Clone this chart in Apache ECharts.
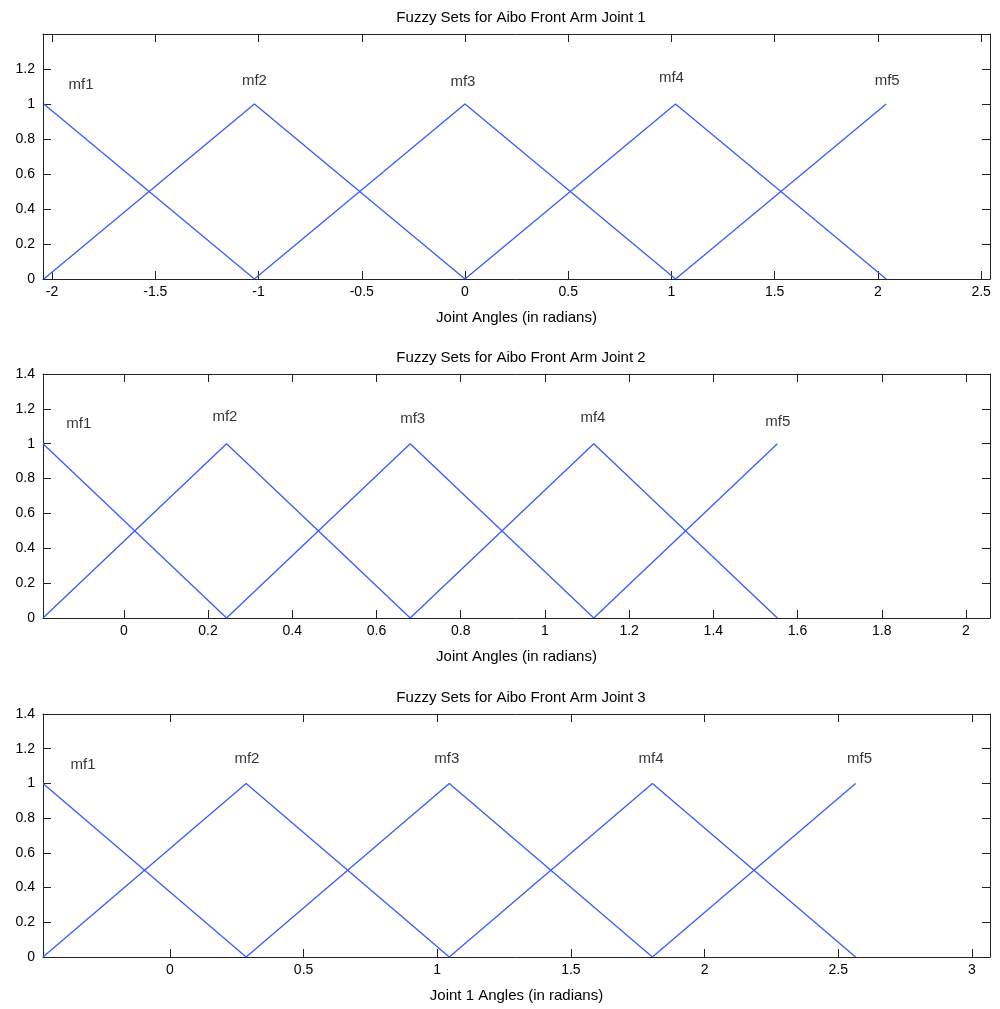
<!DOCTYPE html>
<html>
<head>
<meta charset="utf-8">
<script src="https://cdn.jsdelivr.net/npm/echarts@6/dist/echarts.min.js"></script>
<style>
  html, body { margin: 0; padding: 0; background: #fff; }
  #chart { width: 1000px; height: 1009px; }
</style>
</head>
<body>
<div id="chart"></div>
<script>
// membership function break points (peaks) for each joint
const joint1Peaks = [-2.04, -1.02, 0, 1.02, 2.04];
const joint2Peaks = [-0.192, 0.244, 0.68, 1.116, 1.552];
const joint3Peaks = [-0.475, 0.285, 1.045, 1.805, 2.565];

const mfNames = ['mf1', 'mf2', 'mf3', 'mf4', 'mf5'];

// text label positions [x, y] per joint
const joint1LabelPos = [[-1.86, 1.11], [-1.02, 1.13], [-0.01, 1.125], [1.0, 1.15], [2.045, 1.135]];
const joint2LabelPos = [[-0.107, 1.115], [0.24, 1.155], [0.686, 1.14], [1.114, 1.15], [1.553, 1.128]];
const joint3LabelPos = [[-0.325, 1.105], [0.288, 1.14], [1.036, 1.14], [1.80, 1.14], [2.58, 1.14]];

// axis limits
const joint1XRange = [-2.044, 2.543];
const joint2XRange = [-0.192, 2.057];
const joint3XRange = [-0.475, 3.068];

// tick values
const joint1XTicks = [-2, -1.5, -1, -0.5, 0, 0.5, 1, 1.5, 2, 2.5];
const joint2XTicks = [0, 0.2, 0.4, 0.6, 0.8, 1, 1.2, 1.4, 1.6, 1.8, 2];
const joint3XTicks = [0, 0.5, 1, 1.5, 2, 2.5, 3];
const yTicksFirst = [0, 0.2, 0.4, 0.6, 0.8, 1, 1.2];
const yTicks = [0, 0.2, 0.4, 0.6, 0.8, 1, 1.2, 1.4];

const titles = [
  'Fuzzy Sets for Aibo Front Arm Joint 1',
  'Fuzzy Sets for Aibo Front Arm Joint 2',
  'Fuzzy Sets for Aibo Front Arm Joint 3'
];
const xNames = ['Joint Angles (in radians)', 'Joint Angles (in radians)', 'Joint 1 Angles (in radians)'];

const lineColor = '#3a5aff';
const axisColor = '#222';
const font = 'Arial, "Liberation Sans", sans-serif';

const panels = [
  {peaks: joint1Peaks, labels: joint1LabelPos, range: joint1XRange, xTicks: joint1XTicks, yTicks: yTicksFirst, top: 34, height: 245},
  {peaks: joint2Peaks, labels: joint2LabelPos, range: joint2XRange, xTicks: joint2XTicks, yTicks: yTicks, top: 374, height: 244},
  {peaks: joint3Peaks, labels: joint3LabelPos, range: joint3XRange, xTicks: joint3XTicks, yTicks: yTicks, top: 714, height: 243}
];

// triangle for membership function i: rises from previous peak, falls to next peak
const triangle = (peaks, i) => {
  const pts = [];
  if (i > 0) pts.push([peaks[i - 1], 0]);
  pts.push([peaks[i], 1]);
  if (i < peaks.length - 1) pts.push([peaks[i + 1], 0]);
  return pts;
};

const grid = [], xAxis = [], yAxis = [], series = [], title = [];

panels.forEach((p, k) => {
  grid.push({left: 43, right: 10, top: p.top, height: p.height, containLabel: false});
  title.push({
    text: titles[k],
    left: 516, top: p.top - 29,
    textAlign: 'center',
    textStyle: {fontFamily: font, fontSize: 15, fontWeight: 'normal', color: '#000'}
  });

  const xBase = {
    type: 'value', gridIndex: k, min: p.range[0], max: p.range[1],
    splitLine: {show: false},
    axisLine: {onZero: false, lineStyle: {color: axisColor, width: 1}},
    axisTick: {inside: true, length: 8, customValues: p.xTicks, lineStyle: {color: axisColor}}
  };
  xAxis.push(Object.assign({}, xBase, {
    position: 'bottom',
    name: xNames[k], nameLocation: 'middle', nameGap: 31,
    nameTextStyle: {fontFamily: font, fontSize: 15, color: '#000'},
    axisLabel: {customValues: p.xTicks, margin: 6, fontFamily: font, fontSize: 14, color: '#000',
      showMinLabel: true, showMaxLabel: true, hideOverlap: false}
  }));
  xAxis.push(Object.assign({}, xBase, {position: 'top', axisLabel: {show: false}}));

  const yBase = {
    type: 'value', gridIndex: k, min: 0, max: 1.4,
    splitLine: {show: false},
    axisLine: {show: true, onZero: false, lineStyle: {color: axisColor, width: 1}},
    axisTick: {show: true, inside: true, length: 8, customValues: p.yTicks, lineStyle: {color: axisColor}}
  };
  yAxis.push(Object.assign({}, yBase, {
    position: 'left',
    axisLabel: {customValues: p.yTicks, margin: 8, fontFamily: font, fontSize: 14, color: '#000',
      showMinLabel: true, showMaxLabel: true, hideOverlap: false}
  }));
  yAxis.push(Object.assign({}, yBase, {position: 'right', axisLabel: {show: false}}));

  mfNames.forEach((name, i) => {
    series.push({
      type: 'line', name: name,
      xAxisIndex: 2 * k, yAxisIndex: 2 * k,
      data: triangle(p.peaks, i),
      showSymbol: false, symbol: 'none',
      lineStyle: {color: lineColor, width: 1.3},
      animation: false
    });
  });

  series.push({
    type: 'scatter', xAxisIndex: 2 * k, yAxisIndex: 2 * k,
    symbolSize: 0,
    data: p.labels.map((pos, i) => ({value: pos, name: mfNames[i]})),
    label: {
      show: true, position: 'inside', formatter: '{b}',
      fontFamily: font, fontSize: 15, color: '#000'
    },
    silent: true, animation: false
  });
});

const chart = echarts.init(document.getElementById('chart'), null, {renderer: 'canvas'});
chart.setOption({
  backgroundColor: '#fff',
  animation: false,
  title: title,
  grid: grid,
  xAxis: xAxis,
  yAxis: yAxis,
  series: series
});
window.addEventListener('resize', () => {
  chart.resize();
});
</script>
</body>
</html>
